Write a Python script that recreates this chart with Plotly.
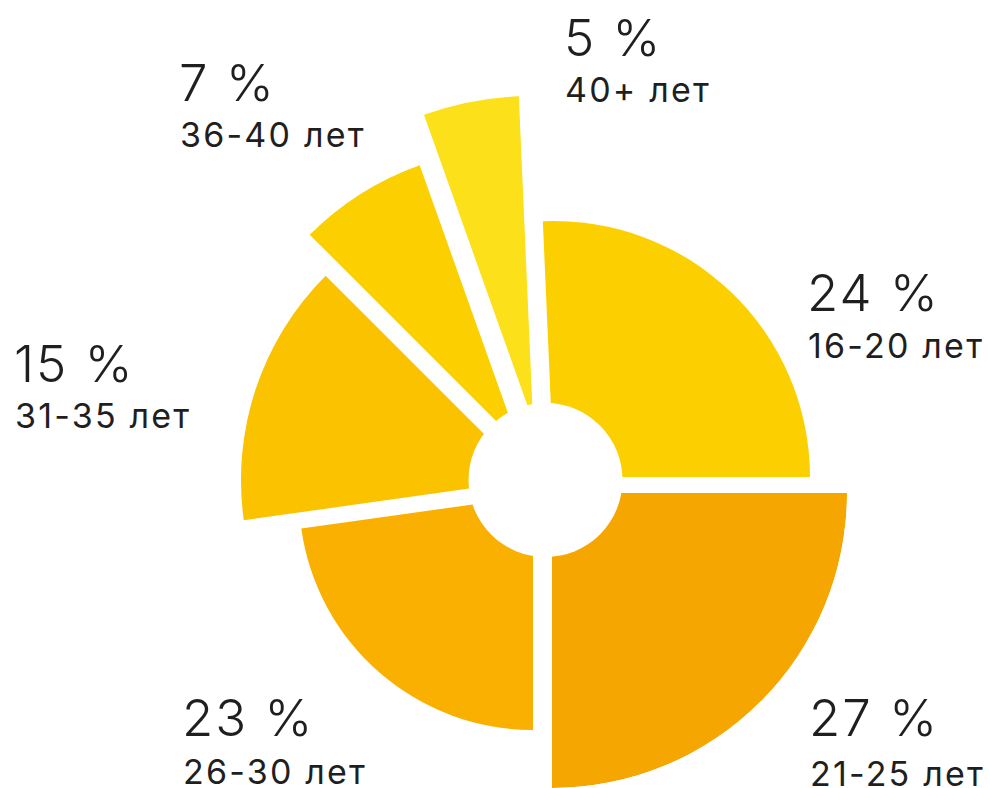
import plotly.graph_objects as go

# ---- data ----
age_groups = ["16-20 лет", "21-25 лет", "26-30 лет", "31-35 лет", "36-40 лет", "40+ лет"]
shares = [24, 27, 23, 15, 7, 5]                       # labelled percentages
sweep_deg = [92.5, 90, 82, 53, 25.4, 17.1]             # angular size of each drawn slice
slice_radius = [256, 295, 234, 289, 296, 325]           # outer radius of each slice (px)
colors = ["#FCD000", "#F6A600", "#F9B000", "#FBC200", "#FCD000", "#FBE01A"]

# ---- layout / style ----
W, H = 990, 788
START_DEG = 92.5                                       # first slice starts here (math angle), clockwise
vertex_px = [(554, 477), (552, 493), (533, 496), (530, 480), (519, 444), (533, 421)]  # exploded apex per slice
hole_center = (545.5, 480)
hole_r = 77
pct_pos = [(805, 292), (807, 717), (180, 717), (12, 364), (177, 82), (562, 37)]
sub_pos = [(806, 345), (808, 773), (181, 771), (13, 415), (178, 134), (563, 90)]
FONT = "Inter"
TEXT_COLOR = "#1f1f1f"

fig = go.Figure()
layout_polars = {}
cum = 0.0
for i, (grp, sw, r, col) in enumerate(zip(age_groups, sweep_deg, slice_radius, colors)):
    vx, vy = vertex_px[i]
    S = min(r + 3, vx, W - vx, vy, H - vy)
    key = "polar" if i == 0 else f"polar{i+1}"
    fig.add_trace(go.Barpolar(
        r=[r], theta=[cum + sw / 2], width=[sw], base=0,
        marker=dict(color=col, line=dict(width=0)),
        name=grp, subplot=key, hoverinfo="skip",
    ))
    layout_polars[key] = dict(
        domain=dict(x=[(vx - S) / W, (vx + S) / W], y=[1 - (vy + S) / H, 1 - (vy - S) / H]),
        bgcolor="rgba(0,0,0,0)",
        radialaxis=dict(visible=False, range=[0, S]),
        angularaxis=dict(visible=False, direction="clockwise", rotation=START_DEG),
        hole=0,
    )
    cum += sw

fig.update_layout(**layout_polars)

# white centre hole
fig.add_shape(type="circle", xref="paper", yref="paper", layer="above",
              x0=(hole_center[0] - hole_r) / W, x1=(hole_center[0] + hole_r) / W,
              y0=1 - (hole_center[1] + hole_r) / H, y1=1 - (hole_center[1] - hole_r) / H,
              fillcolor="white", line=dict(width=0))

for i, (grp, s) in enumerate(zip(age_groups, shares)):
    px, py = pct_pos[i]
    fig.add_annotation(text=f"<span style='letter-spacing:2px'>{s} %</span>",
                       xref="paper", yref="paper", x=px / W, y=1 - py / H,
                       xanchor="left", yanchor="middle", showarrow=False,
                       font=dict(family=FONT, size=51, color=TEXT_COLOR, weight=300))
    sx, sy = sub_pos[i]
    fig.add_annotation(text=f"<span style='letter-spacing:2.2px'>{grp}</span>",
                       xref="paper", yref="paper", x=sx / W, y=1 - sy / H,
                       xanchor="left", yanchor="middle", showarrow=False,
                       font=dict(family=FONT, size=34, color=TEXT_COLOR, weight=400))

fig.update_layout(width=W, height=H, margin=dict(l=0, r=0, t=0, b=0),
                  paper_bgcolor="white", plot_bgcolor="white", showlegend=False)

fig.write_html("out.html")
